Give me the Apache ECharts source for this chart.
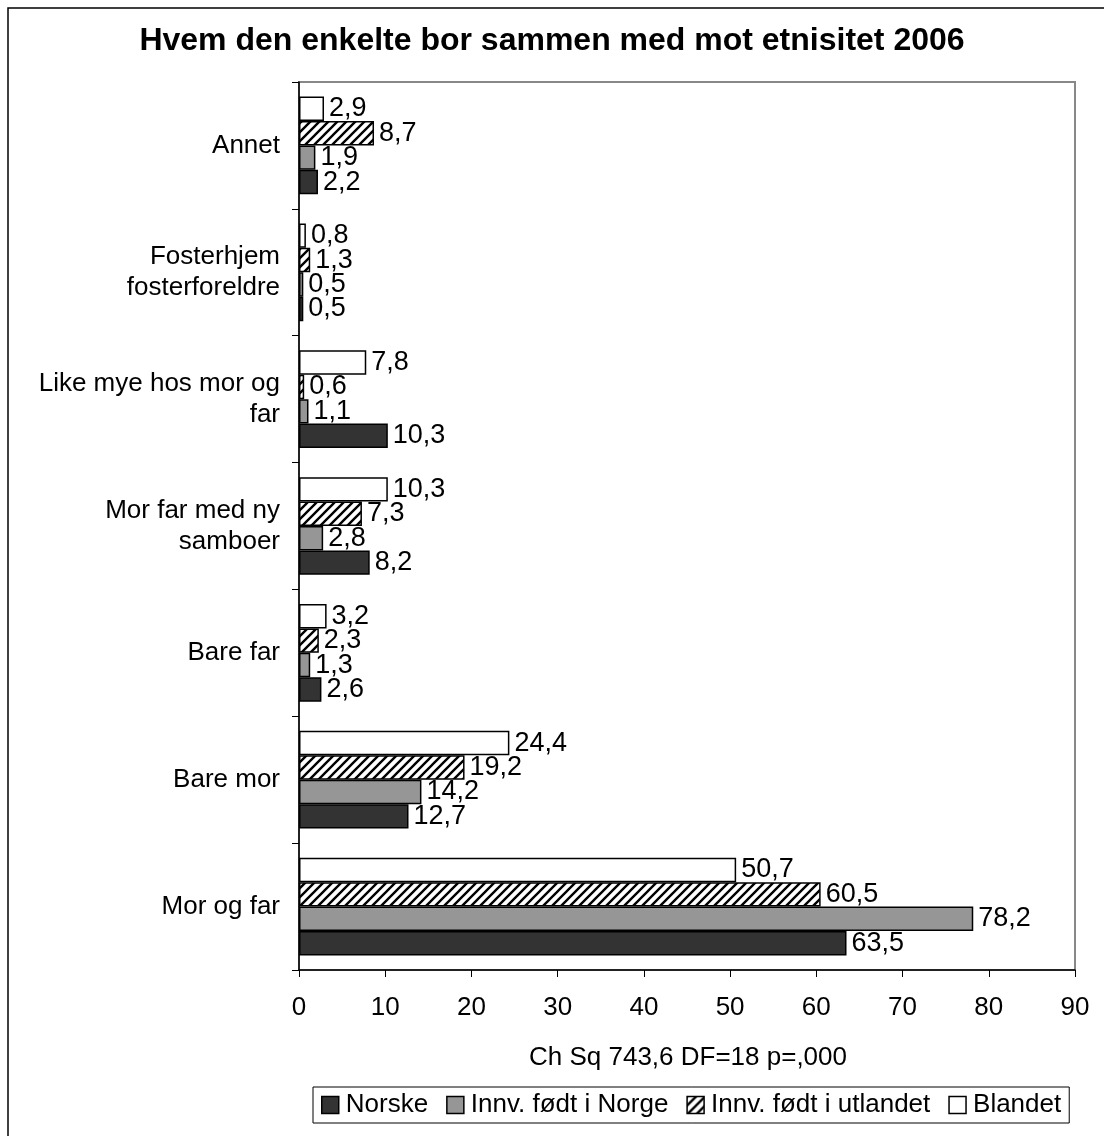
<!DOCTYPE html>
<html>
<head>
<meta charset="utf-8">
<script src="https://cdn.jsdelivr.net/npm/echarts@6/dist/echarts.min.js"></script>
<style>
  html, body { margin: 0; padding: 0; background: #fff; }
  #chart { width: 1104px; height: 1136px; }
</style>
</head>
<body>
<div id="chart"></div>
<script>
// categories, bottom to top
var categories = ['Mor og far', 'Bare mor', 'Bare far', 'Mor far med ny\nsamboer',
  'Like mye hos mor og\nfar', 'Fosterhjem\nfosterforeldre', 'Annet']
var norske = [63.5, 12.7, 2.6, 8.2, 10.3, 0.5, 2.2]
var innvNorge = [78.2, 14.2, 1.3, 2.8, 1.1, 0.5, 1.9]
var innvUtlandet = [60.5, 19.2, 2.3, 7.3, 0.6, 1.3, 8.7]
var blandet = [50.7, 24.4, 3.2, 10.3, 7.8, 0.8, 2.9]
var seriesNames = ['Norske', 'Innv. født i Norge', 'Innv. født i utlandet', 'Blandet']

var font = '"Liberation Sans", Arial, sans-serif'

// diagonal hatch for "Innv. født i utlandet"
function hatch() {
  var c = document.createElement('canvas')
  c.width = 9
  c.height = 9
  var ctx = c.getContext('2d')
  ctx.fillStyle = '#fff'
  ctx.fillRect(0, 0, 9, 9)
  ctx.strokeStyle = '#000'
  ctx.lineWidth = 2.4
  ctx.beginPath()
  ctx.moveTo(-1, 10); ctx.lineTo(10, -1)
  ctx.moveTo(-5.5, 5.5); ctx.lineTo(5.5, -5.5)
  ctx.moveTo(3.5, 14.5); ctx.lineTo(14.5, 3.5)
  ctx.stroke()
  return { image: c, repeat: 'repeat' }
}

function fmt(p) {
  return String(p.value).replace('.', ',')
}

function makeSeries(name, data, color) {
  return {
    name: name,
    type: 'bar',
    data: data,
    barGap: '0%',
    barCategoryGap: '23%',
    itemStyle: { color: color, borderColor: '#000', borderWidth: 1.5 },
    label: {
      show: true,
      position: 'right',
      distance: 5,
      formatter: fmt,
      color: '#000',
      fontSize: 27,
      fontFamily: font
    }
  }
}

var chart = echarts.init(document.getElementById('chart'))
chart.setOption({
  backgroundColor: '#fff',
  animation: false,
  title: {
    text: 'Hvem den enkelte bor sammen med mot etnisitet 2006',
    left: 'center',
    top: 20,
    textStyle: { fontSize: 32, fontWeight: 'bold', color: '#000', fontFamily: font }
  },
  graphic: [{
    type: 'rect',
    shape: { x: 8, y: 8, width: 1200, height: 1200 },
    style: { fill: 'none', stroke: '#000', lineWidth: 1.5 },
    silent: true
  }, {
    type: 'text',
    x: 688,
    y: 1058,
    style: {
      text: 'Ch Sq 743,6 DF=18 p=,000',
      fontSize: 26,
      fontFamily: font,
      fill: '#000',
      align: 'center',
      verticalAlign: 'middle'
    }
  }],
  legend: {
    data: seriesNames,
    left: 313,
    top: 1087,
    padding: [5, 8, 5, 8],
    itemGap: 18,
    itemWidth: 17,
    itemHeight: 17,
    icon: 'rect',
    borderColor: '#000',
    borderWidth: 1,
    itemStyle: { borderColor: '#000', borderWidth: 1.5 },
    textStyle: { fontSize: 26, fontFamily: font, color: '#000', padding: [0, 0, 0, 2] }
  },
  grid: {
    left: 299,
    right: 29,
    top: 82,
    bottom: 166,
    show: true,
    borderColor: '#888',
    borderWidth: 2
  },
  xAxis: {
    type: 'value',
    min: 0,
    max: 90,
    interval: 10,
    axisLine: { show: true, lineStyle: { color: '#000', width: 1.5 } },
    axisTick: { show: true, length: 7, lineStyle: { color: '#000' } },
    splitLine: { show: false },
    axisLabel: { fontSize: 26, fontFamily: font, color: '#000', margin: 25 }
  },
  yAxis: {
    type: 'category',
    data: categories,
    axisLine: { show: true, lineStyle: { color: '#000', width: 1.5 } },
    axisTick: { show: true, length: 7, lineStyle: { color: '#000' } },
    axisLabel: { fontSize: 26, fontFamily: font, color: '#000', margin: 19, lineHeight: 31, align: 'right' }
  },
  // listed top bar first so Norske ends up at the bottom of each group
  series: [
    makeSeries(seriesNames[3], blandet, '#ffffff'),
    makeSeries(seriesNames[2], innvUtlandet, hatch()),
    makeSeries(seriesNames[1], innvNorge, '#969696'),
    makeSeries(seriesNames[0], norske, '#333333')
  ]
})
</script>
</body>
</html>
